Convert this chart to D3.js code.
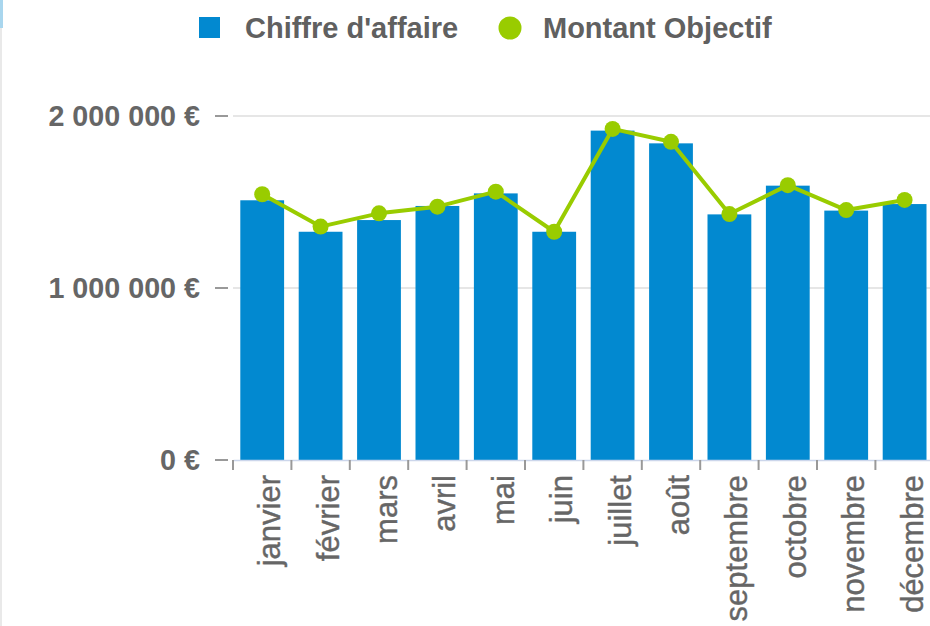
<!DOCTYPE html>
<html>
<head>
<meta charset="utf-8">
<script src="https://cdn.jsdelivr.net/npm/d3@7"></script>
<style>
  body { margin: 0; background: #fff; }
  svg { display: block; font-family: "Liberation Sans", Arial, sans-serif; }
</style>
</head>
<body>
<div id="chart"></div>
<script>
// months and values
const months = ['janvier','février','mars','avril','mai','juin','juillet','août','septembre','octobre','novembre','décembre'];
const chiffre = [1510000, 1327000, 1395000, 1477000, 1550000, 1327000, 1915000, 1841000, 1428000, 1595000, 1450000, 1488000];
const objectif = [1545000, 1357000, 1434000, 1473000, 1560000, 1327000, 1925000, 1850000, 1430000, 1598000, 1453000, 1512000];
const yTicks = [0, 1000000, 2000000];
const legendLabels = ['Chiffre d\'affaire', 'Montant Objectif'];

const width = 930, height = 626;
const barColor = '#0289d0', lineColor = '#99cc00';

let svg = d3.select('#chart').append('svg')
            .attr('width', width)
            .attr('height', height);

// thin frame on the left edge
svg.append('line').attr('x1', 1).attr('x2', 1).attr('y1', 0).attr('y2', height)
   .attr('stroke', '#e2e2e2').attr('stroke-width', 1.5);
svg.append('line').attr('x1', 1.5).attr('x2', 1.5).attr('y1', 0).attr('y2', 28)
   .attr('stroke', '#a9d6ee').attr('stroke-width', 3);

let x = d3.scaleBand()
          .domain(months)
          .range([233, 233 + 12 * 58.4])
          .paddingInner(0.25)
          .paddingOuter(0.125);

let y = d3.scaleLinear()
          .domain([0, 2000000])
          .range([460, 116]);

const fmt = v => d3.format(',')(v).replace(/,/g, ' ') + ' €';

// grid lines
svg.append('g').selectAll('line.grid').data(yTicks.slice(1))
   .join('line')
   .attr('class', 'grid')
   .attr('x1', 233).attr('x2', width)
   .attr('y1', d => y(d)).attr('y2', d => y(d))
   .attr('stroke', '#e6e6e6').attr('stroke-width', 2);

// y axis: short dashes + labels
let yAxis = svg.append('g');
yAxis.selectAll('line').data(yTicks)
     .join('line')
     .attr('x1', 215).attr('x2', 228)
     .attr('y1', d => y(d)).attr('y2', d => y(d))
     .attr('stroke', '#999').attr('stroke-width', 2);
yAxis.selectAll('text').data(yTicks)
     .join('text')
     .attr('x', 200)
     .attr('y', d => y(d))
     .attr('dy', '0.36em')
     .attr('text-anchor', 'end')
     .attr('font-size', 28.7)
     .attr('font-weight', 'bold')
     .attr('fill', '#666')
     .text(fmt);

// bars
svg.append('g').selectAll('rect').data(months)
   .join('rect')
   .attr('x', d => x(d))
   .attr('width', x.bandwidth())
   .attr('y', (d, i) => y(chiffre[i]))
   .attr('height', (d, i) => y(0) - y(chiffre[i]))
   .attr('fill', barColor);

// x axis line, ticks at band edges, rotated labels
let xAxis = svg.append('g').attr('transform', `translate(0,${y(0)})`)
               .call(d3.axisBottom(x).tickSize(0).tickPadding(0));
xAxis.select('.domain').attr('stroke', '#ccd6eb').attr('stroke-width', 1.5);
xAxis.selectAll('.tick text')
     .attr('font-size', 31)
     .attr('font-family', '"Liberation Sans", Arial, sans-serif')
     .attr('fill', '#666')
     .attr('stroke', '#666')
     .attr('stroke-width', 0.4)
     .attr('text-anchor', 'end')
     .attr('transform', 'translate(0,15) rotate(-90)')
     .attr('x', 0).attr('y', 0)
     .attr('dy', 18);

const edges = months.map(d => x(d) - x.step() * x.paddingInner() / 2);
xAxis.selectAll('line.edge').data(edges)
     .join('line')
     .attr('class', 'edge')
     .attr('x1', d => d).attr('x2', d => d)
     .attr('y1', 0).attr('y2', 10)
     .attr('stroke', '#999').attr('stroke-width', 2);

// objective line + points
const cx = d => x(d) + x.bandwidth() / 2;
let line = d3.line()
             .x((d, i) => cx(months[i]))
             .y(d => y(d));
svg.append('path').datum(objectif)
   .attr('d', line)
   .attr('fill', 'none')
   .attr('stroke', lineColor)
   .attr('stroke-width', 4)
   .attr('stroke-linejoin', 'round');
svg.append('g').selectAll('circle').data(objectif)
   .join('circle')
   .attr('cx', (d, i) => cx(months[i]))
   .attr('cy', d => y(d))
   .attr('r', 8)
   .attr('fill', lineColor);

// legend
let legend = svg.append('g');
legend.append('rect').attr('x', 199).attr('y', 17).attr('width', 21).attr('height', 21).attr('fill', barColor);
legend.append('circle').attr('cx', 510).attr('cy', 28).attr('r', 11.5).attr('fill', lineColor);
legend.selectAll('text').data(legendLabels)
      .join('text')
      .attr('x', (d, i) => i === 0 ? 245 : 543)
      .attr('y', 37.5)
      .attr('font-size', 29)
      .attr('font-weight', 'bold')
      .attr('fill', '#606060')
      .text(d => d);
</script>
</body>
</html>
